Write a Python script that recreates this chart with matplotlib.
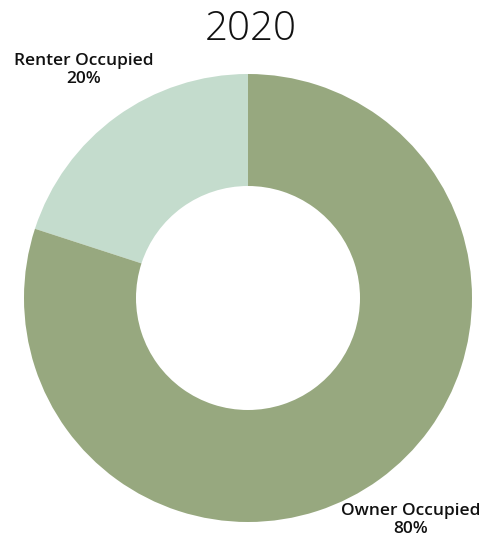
import matplotlib
matplotlib.use("Agg")
import matplotlib.pyplot as plt

# data
categories = ["Renter Occupied", "Owner Occupied"]
shares = [20, 80]
year = "2020"

colors = ["#c4dccd", "#97a87f"]

fig = plt.figure(figsize=(4.88, 5.38), dpi=100)
ax = fig.add_axes([24 / 488, 16 / 538, 448 / 488, 448 / 538])

ax.pie(
    shares,
    colors=colors,
    startangle=90,
    counterclock=True,
    radius=1.0,
    wedgeprops=dict(width=0.5, edgecolor="none"),
)
ax.set_xlim(-1, 1)
ax.set_ylim(-1, 1)
ax.set_aspect("equal")
ax.axis("off")

fig.text(251 / 488, 1 - 30 / 538, year, ha="center", va="center",
         fontsize=29, family="Open Sans", fontweight="light", color="#111111")

# label positions (pixels from top-left)
label_pos = {"Renter Occupied": (84, 70), "Owner Occupied": (411, 520)}
for cat, val in zip(categories, shares):
    x, y = label_pos[cat]
    fig.text(x / 488, 1 - y / 538, f"{cat}\n{val}%", ha="center", va="center",
             fontsize=12.5, family="Open Sans", fontweight="semibold",
             linespacing=1.15, color="#111111")

fig.savefig("out.png", dpi=100)
